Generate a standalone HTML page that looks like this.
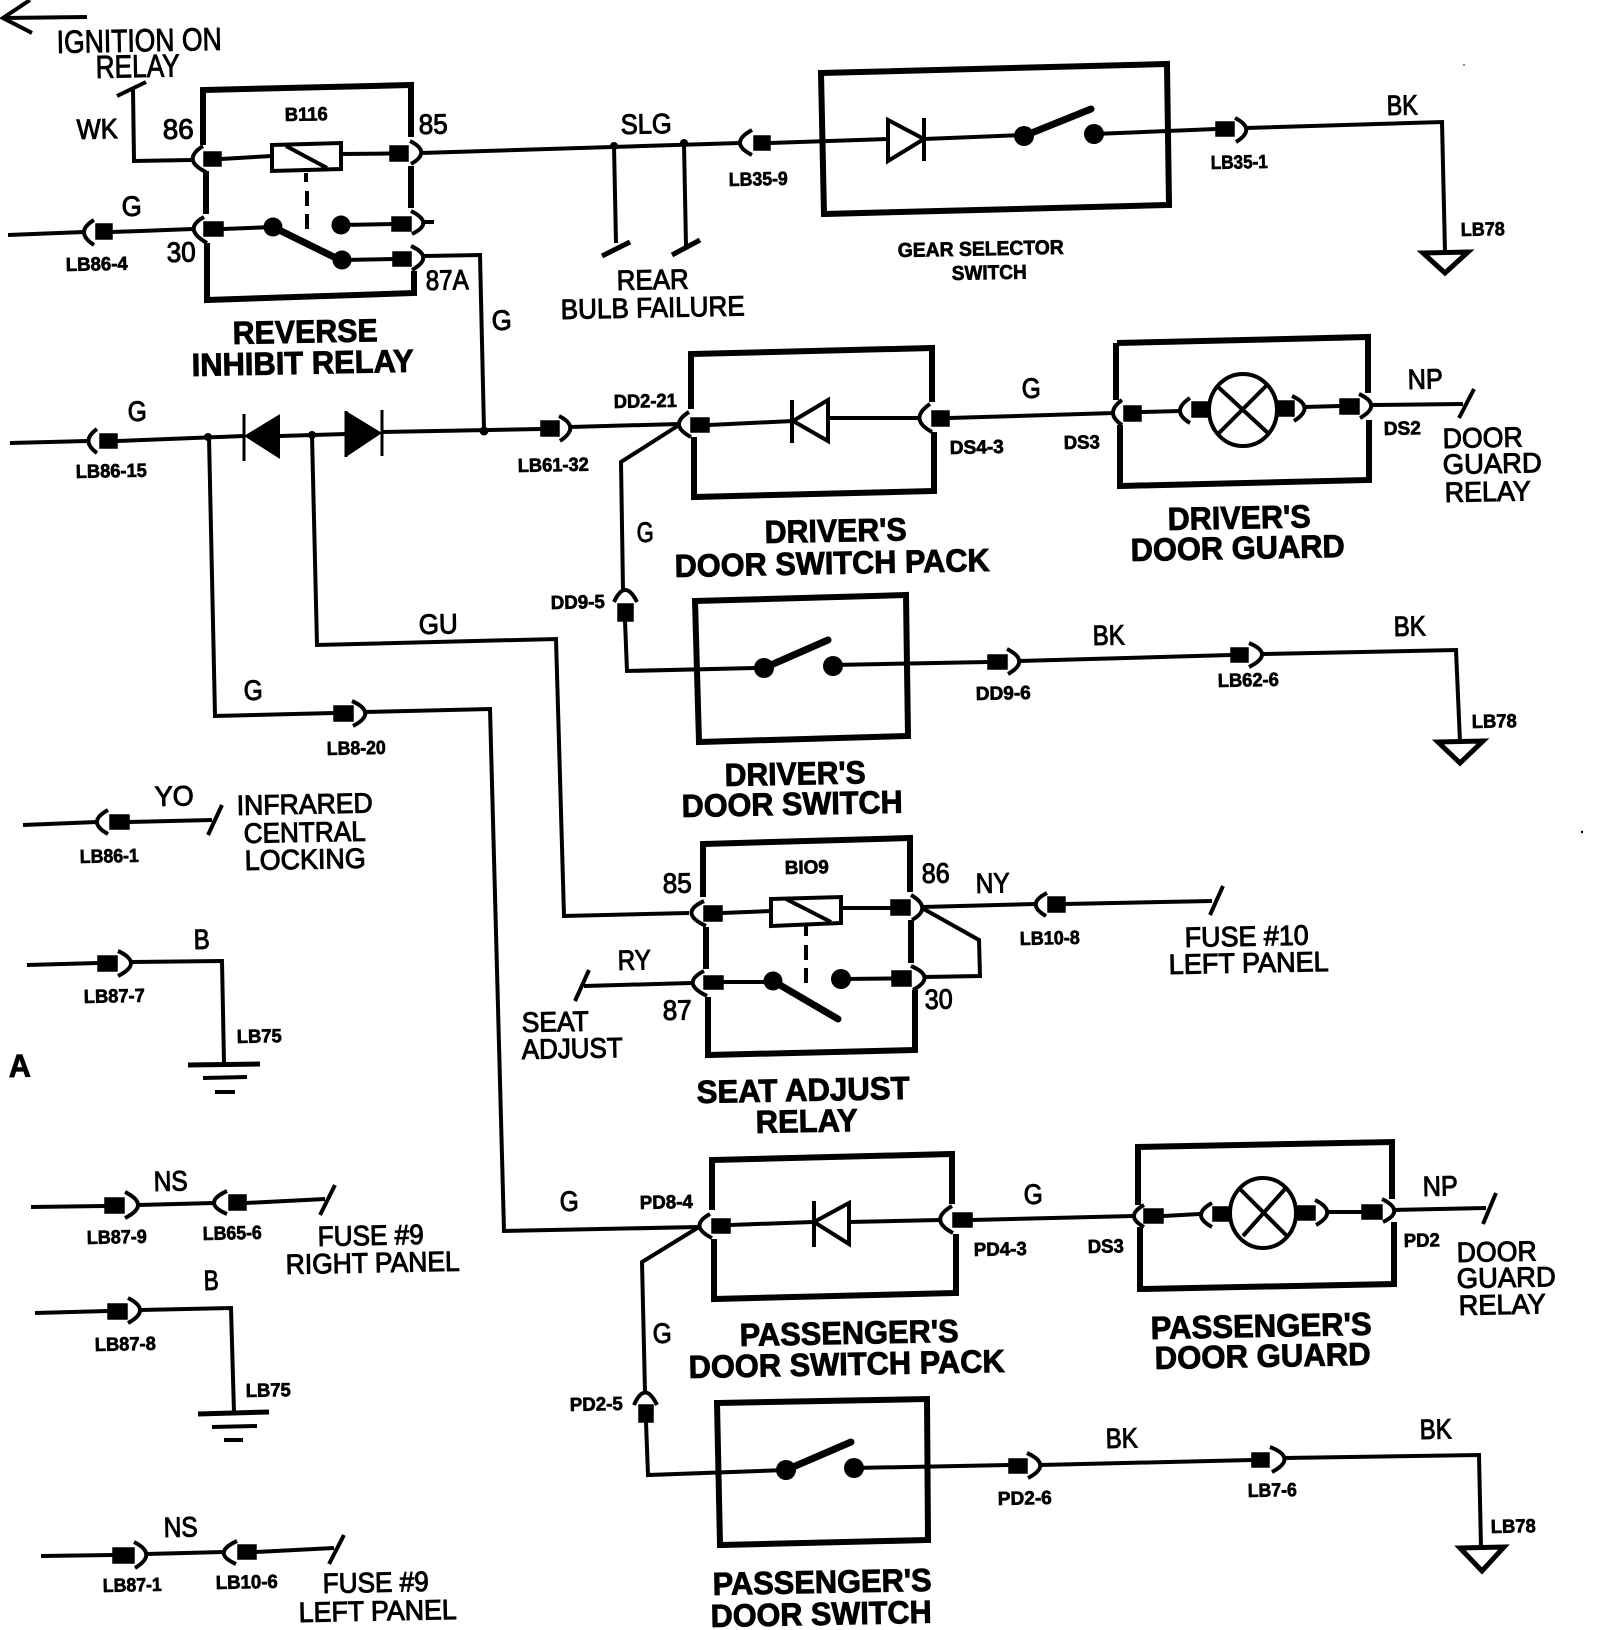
<!DOCTYPE html>
<html><head><meta charset="utf-8"><style>
html,body{margin:0;padding:0;background:#fff}
svg{display:block}
text{font-family:"Liberation Sans",sans-serif;fill:#000;transform-box:fill-box;transform-origin:0 100%;transform:rotate(-1.1deg)}
.m{font-size:28px;stroke:#000;stroke-width:1}
.b{font-size:32px;font-weight:bold;stroke:#000;stroke-width:.9}
.s{font-size:19px;font-weight:bold;stroke:#000;stroke-width:.7}
.w{fill:none;stroke:#000;stroke-width:4;stroke-linejoin:miter}
.x{fill:none;stroke:#000;stroke-width:6;stroke-linejoin:miter}
.a{fill:none;stroke:#000;stroke-width:4}
.k{fill:none;stroke:#000;stroke-width:7;stroke-linecap:round}
</style></head><body>
<svg width="1600" height="1630" viewBox="0 0 1600 1630" xmlns="http://www.w3.org/2000/svg">
<rect width="1600" height="1630" fill="#fff"/>

<!-- top arrow -->
<path class="w" d="M87 17L3 18M30 0L3 18L32 33"/>

<!-- boxes -->
<g class="x">
<path d="M203 145V90L411 85V137"/>
<path d="M206 171V214"/>
<path d="M207 243V300L414 293V271"/>
<path d="M411 166V208"/>
<path d="M821 73L1167 64L1169 205L824 214Z"/>
<path d="M691 409V354L932 348V402"/>
<path d="M934 432V491L694 497V437"/>
<path d="M1116 343V400"/><path d="M1117 343L1368 337V393"/>
<path d="M1120 425V486L1369 480V420"/>
<path d="M695 601L906 595L908 736L699 742Z"/>
<path d="M703 897V844L910 838V892"/>
<path d="M706 927V969"/><path d="M911 920V963"/>
<path d="M708 997V1055L915 1050V990"/>
<path d="M712 1210V1160L952 1154V1204"/>
<path d="M714 1239V1299L956 1293V1234"/>
<path d="M1138 1205V1147L1392 1142V1199"/>
<path d="M1140 1227V1289L1394 1284V1222"/>
<path d="M717 1403L927 1399L928 1540L720 1545Z"/>
</g>

<!-- connector brackets -->
<g class="a">
<path d="M203 146Q181 160 206 172"/>
<path d="M204 217Q182 229 207 243"/>
<path d="M411 246Q435 257 412 270"/>
<path d="M411 211Q435 223 412 234M423 222H434"/>
<path d="M410 141Q432 152 411 164"/>
<path d="M94 220Q74 232 94 245"/>
<path d="M752 130Q728 143 752 155"/>
<path d="M1235 118Q1257 129 1236 142"/>
<path d="M97 429Q80 441 97 453"/>
<path d="M559 416Q581 427 560 441"/>
<path d="M689 412Q668 425 691 437"/>
<path d="M930 404Q908 419 932 432"/>
<path d="M1122 400Q1104 413 1122 425"/>
<path d="M1190 398Q1170 411 1190 423"/>
<path d="M1292 396Q1316 407 1294 421"/>
<path d="M1359 394Q1383 405 1360 418"/>
<path d="M352 701Q378 713 353 726"/>
<path d="M614 602Q625 578 637 602"/>
<path d="M1007 649Q1031 661 1008 674"/>
<path d="M1249 643Q1275 654 1249 667"/>
<path d="M911 895Q933 908 912 920"/>
<path d="M911 966Q937 977 913 990"/>
<path d="M704 901Q678 913 706 926"/>
<path d="M704 971Q680 983 707 996"/>
<path d="M1047 893Q1025 904 1046 916"/>
<path d="M710 1214Q688 1226 712 1238"/>
<path d="M952 1206Q928 1220 953 1233"/>
<path d="M1144 1205Q1124 1216 1144 1227"/>
<path d="M1212 1203Q1190 1215 1212 1227"/>
<path d="M1315 1200Q1339 1212 1316 1225"/>
<path d="M1382 1199Q1406 1211 1383 1222"/>
<path d="M634 1405Q645 1380 657 1405"/>
<path d="M1027 1453Q1053 1465 1028 1478"/>
<path d="M1270 1447Q1298 1458 1272 1472"/>
<path d="M108 810Q86 822 108 834"/>
<path d="M118 951Q144 963 118 976"/>
<path d="M125 1192Q151 1205 125 1218"/>
<path d="M227 1191Q201 1203 227 1214"/>
<path d="M128 1298Q152 1310 128 1323"/>
<path d="M134 1542Q158 1554 135 1568"/>
<path d="M237 1541Q211 1553 236 1564"/>
</g>

<!-- wires -->
<g class="w">
<path d="M117 96L146 82"/><path d="M133 89L134 161L191 160"/>
<path d="M8 235L84 232"/><path d="M112 232L193 229"/>
<path d="M221 159L272 156"/><path d="M341 154L390 153.5"/>
<path d="M223 229L273 227"/><path d="M342 260L393 259"/><path d="M341 225L392 224"/>
<path d="M421 153L740 143"/><path d="M770 143L888 139"/>
<path d="M924 139L1024 135"/><path d="M1094 134L1216 129"/>
<path d="M1246 128L1442 122L1445 252"/>
<path d="M614 146L616 243"/><path d="M602 256L630 242" stroke-width="5"/>
<path d="M684 144L686 246"/><path d="M672 255L700 240" stroke-width="5"/>
<path d="M424 256L480 255L484 430"/>
<path d="M10 443L88 441"/><path d="M117 441L244 436"/>
<path d="M280 436L346 434"/><path d="M382 432L541 429"/><path d="M570 427L679 424"/>
<path d="M209 437L215 716L334 713"/>
<path d="M365 712L490 709L504 1231L699 1227"/>
<path d="M312 435L317 645L556 639L564 916L689 913"/>
<path d="M709 425L793 421"/><path d="M828 418L919 418"/>
<path d="M949 418L1114 413"/>
<path d="M1141 412L1180 411"/>
<path d="M1304 407L1340 406"/>
<path d="M1371 405L1463 404"/><path d="M1474 389L1459 418"/>
<path d="M679 425L621 462L623 590"/>
<path d="M625 621L627 671L755 668"/>
<path d="M833 665L988 662"/>
<path d="M1019 661L1231 655"/>
<path d="M1262 654L1456 650L1460 742"/>
<path d="M722 913L772 911"/><path d="M841 908L891 908"/>
<path d="M723 982L770 982"/><path d="M841 979L892 978.5"/>
<path d="M922 907L1035 904"/><path d="M1065 904L1212 901"/><path d="M1223 886L1210 915"/>
<path d="M922 908L979 940L980 976L924 977"/>
<path d="M589 970L575 1001"/><path d="M584 986L691 983"/>
<path d="M730 1225L813 1222"/><path d="M849 1222L940 1220"/>
<path d="M972 1220L1134 1216"/>
<path d="M1163 1216L1200 1214"/><path d="M1327 1212L1362 1212"/>
<path d="M1394 1210L1486 1208"/><path d="M1496 1193L1483 1224"/>
<path d="M699 1227L642 1262L645 1392"/>
<path d="M646 1422L648 1475L786 1470"/>
<path d="M854 1468L1009 1465"/>
<path d="M1040 1465L1252 1460"/>
<path d="M1284 1458L1479 1455L1481 1548"/>
<path d="M23 825L97 822"/><path d="M129 822L212 820"/><path d="M222 805L208 835"/>
<path d="M27 965L98 963"/><path d="M131 962L222 961L224 1063"/>
<path d="M188 1065L260 1064" stroke-width="5"/><path d="M203 1078L247 1077" stroke-width="4"/><path d="M215 1092L235 1092" stroke-width="4"/>
<path d="M31 1207L105 1206"/><path d="M138 1205L214 1203"/><path d="M246 1203L325 1199"/><path d="M335 1185L320 1215"/>
<path d="M35 1313L108 1311"/><path d="M140 1310L231 1308L234 1412"/>
<path d="M198 1414L269 1412" stroke-width="5"/><path d="M212 1427L257 1426" stroke-width="4"/><path d="M224 1440L243 1440" stroke-width="4"/>
<path d="M41 1556L113 1555"/><path d="M146 1554L224 1552"/><path d="M256 1552L334 1548"/><path d="M344 1535L329 1564"/>
<!-- coils -->
<path d="M272 145L341 143V169L272 171Z"/><path d="M286 146L327 168"/>
<path d="M771 899L841 897V923L771 926Z"/><path d="M786 899L831 922"/>
<!-- lamps -->
<ellipse cx="1243" cy="410" rx="34" ry="36"/><path d="M1216 385L1269 434M1267 385L1218 434"/>
<ellipse cx="1263" cy="1213" rx="33" ry="35"/><path d="M1240 1189L1287 1236M1285 1189L1243 1236"/>
<!-- open diodes -->
<path d="M888 120V161L924 139Z"/><path d="M924 118V161"/>
<path d="M828 400V441L793 421Z"/><path d="M792 400V443"/>
<path d="M849 1203V1244L814 1222Z"/><path d="M814 1201V1247"/>
<!-- grounds -->
<path d="M1423 253L1468 252L1445 273Z" stroke-width="5"/>
<path d="M1438 742L1483 741L1460 763Z" stroke-width="5"/>
<path d="M1460 1548L1504 1547L1482 1571Z" stroke-width="5"/>
<path d="M244 414V461M346 411V457" stroke-width="3"/><path d="M382 410V456" stroke-width="3"/>
<!-- dashes -->
<path d="M306 173V182M307 191V206M307 214V229"/>
<path d="M806 926V936M806 945V960M806 968V983"/>
</g>

<!-- blades -->
<path class="k" d="M273 227L342 261M1024 136L1091 109M764 668L828 640M773 981L838 1019M786 1470L851 1442"/>

<!-- terminals -->
<g fill="#000" stroke="#000" stroke-width="1.5">
<rect x="204" y="152" width="17" height="14"/><rect x="390" y="146" width="18" height="15"/>
<rect x="204" y="222" width="19" height="14"/><rect x="392" y="217" width="19" height="14"/><rect x="393" y="252" width="18" height="14"/>
<rect x="96" y="224" width="16" height="15"/><rect x="754" y="136" width="16" height="14"/><rect x="1216" y="122" width="18" height="14"/>
<rect x="100" y="434" width="17" height="14"/><rect x="541" y="421" width="18" height="15"/>
<rect x="691" y="418" width="18" height="14"/><rect x="932" y="411" width="17" height="15"/>
<rect x="1124" y="406" width="17" height="15"/><rect x="1192" y="402" width="16" height="15"/><rect x="1277" y="401" width="17" height="15"/><rect x="1340" y="399" width="19" height="15"/>
<rect x="334" y="706" width="19" height="15"/><rect x="618" y="604" width="15" height="17"/>
<rect x="988" y="655" width="19" height="14"/><rect x="1231" y="648" width="17" height="14"/>
<rect x="704" y="906" width="18" height="15"/><rect x="891" y="900" width="19" height="15"/><rect x="704" y="976" width="19" height="13"/><rect x="892" y="971" width="19" height="15"/><rect x="1048" y="897" width="17" height="15"/>
<rect x="712" y="1219" width="18" height="14"/><rect x="953" y="1213" width="19" height="14"/>
<rect x="1144" y="1209" width="19" height="14"/><rect x="1213" y="1207" width="18" height="14"/><rect x="1297" y="1206" width="18" height="14"/><rect x="1362" y="1205" width="20" height="14"/>
<rect x="639" y="1405" width="14" height="17"/><rect x="1009" y="1459" width="18" height="14"/><rect x="1252" y="1453" width="17" height="14"/>
<rect x="110" y="815" width="19" height="14"/><rect x="98" y="956" width="19" height="15"/>
<rect x="105" y="1198" width="19" height="15"/><rect x="229" y="1195" width="17" height="15"/><rect x="108" y="1304" width="19" height="15"/>
<rect x="113" y="1548" width="21" height="15"/><rect x="238" y="1545" width="18" height="14"/>
</g>
<g fill="#000">
<!-- contacts -->
<circle cx="273" cy="227" r="9.5"/><circle cx="342" cy="260" r="9.5"/><circle cx="341" cy="225" r="9.5"/>
<circle cx="1024" cy="136" r="10"/><circle cx="1094" cy="134" r="10"/>
<circle cx="764" cy="668" r="10"/><circle cx="833" cy="666" r="10"/>
<circle cx="773" cy="981" r="9.5"/><circle cx="841" cy="979" r="10"/>
<circle cx="786" cy="1470" r="10"/><circle cx="854" cy="1468" r="10"/>
<!-- junctions -->
<circle cx="614" cy="146" r="4"/><circle cx="684" cy="143" r="4"/><circle cx="484" cy="431" r="4.5"/><circle cx="208" cy="437" r="4"/><circle cx="312" cy="435" r="4"/>
<!-- solid diodes -->
<path d="M244 436L280 414V459Z"/><path d="M346 411V457L382 433Z"/>
<circle cx="1464" cy="65" r=".8"/><circle cx="1582" cy="832" r="1.2"/>
</g>

<!-- labels -->
<text class="b" style="font-weight:normal" x="57" y="53" textLength="165" lengthAdjust="spacingAndGlyphs">IGNITION ON</text>
<text class="b" style="font-weight:normal" x="96" y="78" textLength="84" lengthAdjust="spacingAndGlyphs">RELAY</text>
<text class="m" x="77" y="139" textLength="41" lengthAdjust="spacingAndGlyphs">WK</text>
<text class="m" x="163" y="139" textLength="31" lengthAdjust="spacingAndGlyphs">86</text>
<text class="m" x="419" y="134" textLength="29" lengthAdjust="spacingAndGlyphs">85</text>
<text class="s" x="285" y="121" textLength="43" lengthAdjust="spacingAndGlyphs">B116</text>
<text class="m" x="122" y="216" textLength="20" lengthAdjust="spacingAndGlyphs">G</text>
<text class="m" x="167" y="262" textLength="29" lengthAdjust="spacingAndGlyphs">30</text>
<text class="s" x="66" y="271" textLength="62" lengthAdjust="spacingAndGlyphs">LB86-4</text>
<text class="m" x="426" y="290" textLength="43" lengthAdjust="spacingAndGlyphs">87A</text>
<text class="m" x="621" y="134" textLength="51" lengthAdjust="spacingAndGlyphs">SLG</text>
<text class="s" x="729" y="186" textLength="59" lengthAdjust="spacingAndGlyphs">LB35-9</text>
<text class="m" x="617" y="290" textLength="72" lengthAdjust="spacingAndGlyphs">REAR</text>
<text class="m" x="561" y="319" textLength="184" lengthAdjust="spacingAndGlyphs">BULB FAILURE</text>
<text class="m" x="492" y="330" textLength="20" lengthAdjust="spacingAndGlyphs">G</text>
<text class="b" x="233" y="344" textLength="145" lengthAdjust="spacingAndGlyphs">REVERSE</text>
<text class="b" x="192" y="376" textLength="222" lengthAdjust="spacingAndGlyphs">INHIBIT RELAY</text>
<text class="m" x="128" y="421" textLength="19" lengthAdjust="spacingAndGlyphs">G</text>
<text class="s" x="76" y="478" textLength="71" lengthAdjust="spacingAndGlyphs">LB86-15</text>
<text class="s" x="518" y="472" textLength="71" lengthAdjust="spacingAndGlyphs">LB61-32</text>
<text class="s" x="614" y="408" textLength="63" lengthAdjust="spacingAndGlyphs">DD2-21</text>
<text class="m" x="637" y="542" textLength="17" lengthAdjust="spacingAndGlyphs">G</text>
<text class="m" x="1387" y="115" textLength="31" lengthAdjust="spacingAndGlyphs">BK</text>
<text class="s" x="1211" y="169" textLength="57" lengthAdjust="spacingAndGlyphs">LB35-1</text>
<text class="s" x="1461" y="236" textLength="44" lengthAdjust="spacingAndGlyphs">LB78</text>
<text class="s" style="font-size:20px" x="898" y="257" textLength="166" lengthAdjust="spacingAndGlyphs">GEAR SELECTOR</text>
<text class="s" style="font-size:20px" x="952" y="280" textLength="75" lengthAdjust="spacingAndGlyphs">SWITCH</text>
<text class="m" x="1022" y="398" textLength="19" lengthAdjust="spacingAndGlyphs">G</text>
<text class="m" x="1408" y="389" textLength="35" lengthAdjust="spacingAndGlyphs">NP</text>
<text class="s" x="950" y="454" textLength="54" lengthAdjust="spacingAndGlyphs">DS4-3</text>
<text class="s" x="1064" y="449" textLength="36" lengthAdjust="spacingAndGlyphs">DS3</text>
<text class="s" x="1384" y="435" textLength="37" lengthAdjust="spacingAndGlyphs">DS2</text>
<text class="m" x="1443" y="448" textLength="80" lengthAdjust="spacingAndGlyphs">DOOR</text>
<text class="m" x="1443" y="474" textLength="99" lengthAdjust="spacingAndGlyphs">GUARD</text>
<text class="m" x="1445" y="502" textLength="86" lengthAdjust="spacingAndGlyphs">RELAY</text>
<text class="b" x="1168" y="530" textLength="143" lengthAdjust="spacingAndGlyphs">DRIVER'S</text>
<text class="b" x="1131" y="561" textLength="214" lengthAdjust="spacingAndGlyphs">DOOR GUARD</text>
<text class="b" x="765" y="543" textLength="142" lengthAdjust="spacingAndGlyphs">DRIVER'S</text>
<text class="b" x="675" y="577" textLength="315" lengthAdjust="spacingAndGlyphs">DOOR SWITCH PACK</text>
<text class="m" x="419" y="634" textLength="39" lengthAdjust="spacingAndGlyphs">GU</text>
<text class="s" x="551" y="609" textLength="54" lengthAdjust="spacingAndGlyphs">DD9-5</text>
<text class="m" x="244" y="700" textLength="19" lengthAdjust="spacingAndGlyphs">G</text>
<text class="s" x="327" y="755" textLength="59" lengthAdjust="spacingAndGlyphs">LB8-20</text>
<text class="m" x="155" y="806" textLength="39" lengthAdjust="spacingAndGlyphs">YO</text>
<text class="m" x="237" y="815" textLength="136" lengthAdjust="spacingAndGlyphs">INFRARED</text>
<text class="m" x="244" y="843" textLength="122" lengthAdjust="spacingAndGlyphs">CENTRAL</text>
<text class="m" x="245" y="870" textLength="121" lengthAdjust="spacingAndGlyphs">LOCKING</text>
<text class="s" x="80" y="863" textLength="59" lengthAdjust="spacingAndGlyphs">LB86-1</text>
<text class="m" x="194" y="949" textLength="16" lengthAdjust="spacingAndGlyphs">B</text>
<text class="s" x="84" y="1003" textLength="61" lengthAdjust="spacingAndGlyphs">LB87-7</text>
<text class="s" x="237" y="1043" textLength="45" lengthAdjust="spacingAndGlyphs">LB75</text>
<text class="b" x="9" y="1077" textLength="22" lengthAdjust="spacingAndGlyphs">A</text>
<text class="m" x="663" y="893" textLength="29" lengthAdjust="spacingAndGlyphs">85</text>
<text class="m" x="618" y="970" textLength="33" lengthAdjust="spacingAndGlyphs">RY</text>
<text class="m" x="663" y="1020" textLength="29" lengthAdjust="spacingAndGlyphs">87</text>
<text class="m" x="522" y="1032" textLength="67" lengthAdjust="spacingAndGlyphs">SEAT</text>
<text class="m" x="522" y="1059" textLength="101" lengthAdjust="spacingAndGlyphs">ADJUST</text>
<text class="b" x="725" y="786" textLength="141" lengthAdjust="spacingAndGlyphs">DRIVER'S</text>
<text class="b" x="682" y="817" textLength="221" lengthAdjust="spacingAndGlyphs">DOOR SWITCH</text>
<text class="m" x="1093" y="645" textLength="32" lengthAdjust="spacingAndGlyphs">BK</text>
<text class="m" x="1394" y="636" textLength="32" lengthAdjust="spacingAndGlyphs">BK</text>
<text class="s" x="976" y="700" textLength="55" lengthAdjust="spacingAndGlyphs">DD9-6</text>
<text class="s" x="1218" y="687" textLength="61" lengthAdjust="spacingAndGlyphs">LB62-6</text>
<text class="s" x="1472" y="728" textLength="45" lengthAdjust="spacingAndGlyphs">LB78</text>
<text class="m" x="922" y="883" textLength="28" lengthAdjust="spacingAndGlyphs">86</text>
<text class="s" x="785" y="874" textLength="44" lengthAdjust="spacingAndGlyphs">BIO9</text>
<text class="m" x="976" y="893" textLength="34" lengthAdjust="spacingAndGlyphs">NY</text>
<text class="s" x="1020" y="945" textLength="60" lengthAdjust="spacingAndGlyphs">LB10-8</text>
<text class="m" x="1185" y="947" textLength="124" lengthAdjust="spacingAndGlyphs">FUSE #10</text>
<text class="m" x="1169" y="974" textLength="160" lengthAdjust="spacingAndGlyphs">LEFT PANEL</text>
<text class="m" x="925" y="1009" textLength="28" lengthAdjust="spacingAndGlyphs">30</text>
<text class="b" x="697" y="1103" textLength="213" lengthAdjust="spacingAndGlyphs">SEAT ADJUST</text>
<text class="b" x="756" y="1133" textLength="102" lengthAdjust="spacingAndGlyphs">RELAY</text>
<text class="m" x="154" y="1191" textLength="34" lengthAdjust="spacingAndGlyphs">NS</text>
<text class="s" x="87" y="1244" textLength="60" lengthAdjust="spacingAndGlyphs">LB87-9</text>
<text class="s" x="203" y="1240" textLength="59" lengthAdjust="spacingAndGlyphs">LB65-6</text>
<text class="m" x="318" y="1246" textLength="106" lengthAdjust="spacingAndGlyphs">FUSE #9</text>
<text class="m" x="286" y="1274" textLength="174" lengthAdjust="spacingAndGlyphs">RIGHT PANEL</text>
<text class="m" x="204" y="1290" textLength="15" lengthAdjust="spacingAndGlyphs">B</text>
<text class="s" x="95" y="1351" textLength="61" lengthAdjust="spacingAndGlyphs">LB87-8</text>
<text class="s" x="246" y="1397" textLength="45" lengthAdjust="spacingAndGlyphs">LB75</text>
<text class="m" x="560" y="1211" textLength="19" lengthAdjust="spacingAndGlyphs">G</text>
<text class="s" x="640" y="1209" textLength="53" lengthAdjust="spacingAndGlyphs">PD8-4</text>
<text class="m" x="653" y="1343" textLength="19" lengthAdjust="spacingAndGlyphs">G</text>
<text class="s" x="570" y="1411" textLength="53" lengthAdjust="spacingAndGlyphs">PD2-5</text>
<text class="m" x="164" y="1537" textLength="34" lengthAdjust="spacingAndGlyphs">NS</text>
<text class="s" x="103" y="1592" textLength="59" lengthAdjust="spacingAndGlyphs">LB87-1</text>
<text class="s" x="216" y="1589" textLength="62" lengthAdjust="spacingAndGlyphs">LB10-6</text>
<text class="m" x="323" y="1593" textLength="106" lengthAdjust="spacingAndGlyphs">FUSE #9</text>
<text class="m" x="299" y="1622" textLength="158" lengthAdjust="spacingAndGlyphs">LEFT PANEL</text>
<text class="b" x="740" y="1346" textLength="219" lengthAdjust="spacingAndGlyphs">PASSENGER'S</text>
<text class="b" x="689" y="1378" textLength="316" lengthAdjust="spacingAndGlyphs">DOOR SWITCH PACK</text>
<text class="b" x="713" y="1595" textLength="219" lengthAdjust="spacingAndGlyphs">PASSENGER'S</text>
<text class="b" x="711" y="1627" textLength="221" lengthAdjust="spacingAndGlyphs">DOOR SWITCH</text>
<text class="m" x="1024" y="1204" textLength="19" lengthAdjust="spacingAndGlyphs">G</text>
<text class="s" x="974" y="1256" textLength="53" lengthAdjust="spacingAndGlyphs">PD4-3</text>
<text class="s" x="1088" y="1253" textLength="36" lengthAdjust="spacingAndGlyphs">DS3</text>
<text class="s" x="1404" y="1247" textLength="36" lengthAdjust="spacingAndGlyphs">PD2</text>
<text class="m" x="1423" y="1196" textLength="35" lengthAdjust="spacingAndGlyphs">NP</text>
<text class="m" x="1457" y="1262" textLength="80" lengthAdjust="spacingAndGlyphs">DOOR</text>
<text class="m" x="1457" y="1288" textLength="99" lengthAdjust="spacingAndGlyphs">GUARD</text>
<text class="m" x="1459" y="1315" textLength="87" lengthAdjust="spacingAndGlyphs">RELAY</text>
<text class="b" x="1151" y="1339" textLength="221" lengthAdjust="spacingAndGlyphs">PASSENGER'S</text>
<text class="b" x="1155" y="1369" textLength="216" lengthAdjust="spacingAndGlyphs">DOOR GUARD</text>
<text class="m" x="1106" y="1448" textLength="32" lengthAdjust="spacingAndGlyphs">BK</text>
<text class="m" x="1420" y="1439" textLength="32" lengthAdjust="spacingAndGlyphs">BK</text>
<text class="s" x="998" y="1505" textLength="54" lengthAdjust="spacingAndGlyphs">PD2-6</text>
<text class="s" x="1248" y="1497" textLength="49" lengthAdjust="spacingAndGlyphs">LB7-6</text>
<text class="s" x="1491" y="1533" textLength="45" lengthAdjust="spacingAndGlyphs">LB78</text>
</svg>
</body></html>
